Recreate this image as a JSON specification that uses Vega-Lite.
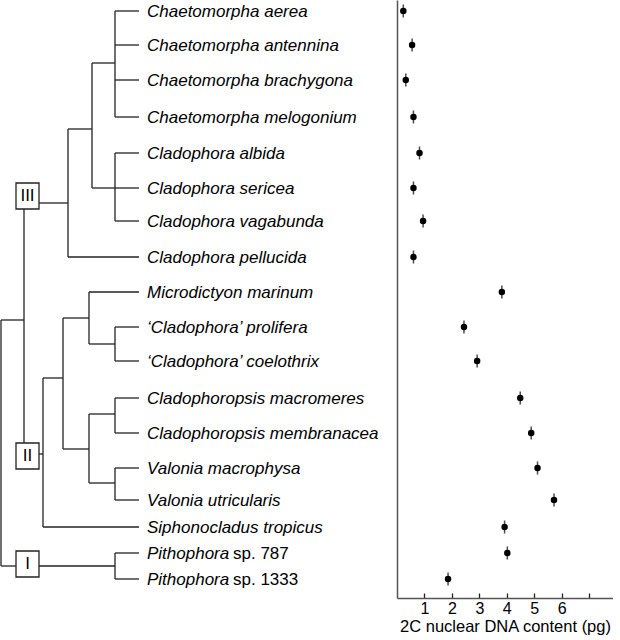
{
  "$schema": "https://vega.github.io/schema/vega-lite/v6.json",
  "padding": {"left": 0, "top": 0, "right": 0, "bottom": 0},
  "spacing": 0,
  "bounds": "flush",
  "config": {"view": {"stroke": null}, "font": "Liberation Sans"},
  "datasets": {
    "species": [
      {"label": "Chaetomorpha aerea", "suffix": "", "pos": 11, "dna": 0.23},
      {"label": "Chaetomorpha antennina", "suffix": "", "pos": 45, "dna": 0.55},
      {"label": "Chaetomorpha brachygona", "suffix": "", "pos": 80, "dna": 0.32},
      {"label": "Chaetomorpha melogonium", "suffix": "", "pos": 117, "dna": 0.6},
      {"label": "Cladophora albida", "suffix": "", "pos": 153, "dna": 0.82},
      {"label": "Cladophora sericea", "suffix": "", "pos": 188, "dna": 0.6},
      {"label": "Cladophora vagabunda", "suffix": "", "pos": 221, "dna": 0.95},
      {"label": "Cladophora pellucida", "suffix": "", "pos": 257, "dna": 0.6},
      {"label": "Microdictyon marinum", "suffix": "", "pos": 292, "dna": 3.82},
      {"label": "‘Cladophora’ prolifera", "suffix": "", "pos": 327, "dna": 2.44},
      {"label": "‘Cladophora’ coelothrix", "suffix": "", "pos": 361, "dna": 2.92},
      {"label": "Cladophoropsis macromeres", "suffix": "", "pos": 398, "dna": 4.49},
      {"label": "Cladophoropsis membranacea", "suffix": "", "pos": 433, "dna": 4.89},
      {"label": "Valonia macrophysa", "suffix": "", "pos": 468, "dna": 5.12},
      {"label": "Valonia utricularis", "suffix": "", "pos": 500, "dna": 5.72},
      {"label": "Siphonocladus tropicus", "suffix": "", "pos": 527, "dna": 3.92},
      {"label": "Pithophora", "suffix": "sp. 787", "pos": 553, "dna": 4.02},
      {"label": "Pithophora", "suffix": "sp. 1333", "pos": 579, "dna": 1.86}
    ],
    "segments": [
      {"x1": 39, "y1": 203, "x2": 68, "y2": 203},
      {"x1": 68, "y1": 129, "x2": 68, "y2": 257},
      {"x1": 68, "y1": 129, "x2": 92, "y2": 129},
      {"x1": 68, "y1": 257, "x2": 139, "y2": 257},
      {"x1": 92, "y1": 63, "x2": 92, "y2": 188},
      {"x1": 92, "y1": 63, "x2": 115, "y2": 63},
      {"x1": 92, "y1": 188, "x2": 115, "y2": 188},
      {"x1": 115, "y1": 11, "x2": 115, "y2": 117},
      {"x1": 115, "y1": 11, "x2": 139, "y2": 11},
      {"x1": 115, "y1": 45, "x2": 139, "y2": 45},
      {"x1": 115, "y1": 80, "x2": 139, "y2": 80},
      {"x1": 115, "y1": 117, "x2": 139, "y2": 117},
      {"x1": 115, "y1": 153, "x2": 115, "y2": 221},
      {"x1": 115, "y1": 153, "x2": 139, "y2": 153},
      {"x1": 115, "y1": 188, "x2": 139, "y2": 188},
      {"x1": 115, "y1": 221, "x2": 139, "y2": 221},
      {"x1": 24, "y1": 209, "x2": 24, "y2": 443},
      {"x1": 1, "y1": 320, "x2": 24, "y2": 320},
      {"x1": 1, "y1": 320, "x2": 1, "y2": 566},
      {"x1": 1, "y1": 566, "x2": 16, "y2": 566},
      {"x1": 39, "y1": 566, "x2": 115, "y2": 566},
      {"x1": 115, "y1": 553, "x2": 115, "y2": 579},
      {"x1": 115, "y1": 553, "x2": 139, "y2": 553},
      {"x1": 115, "y1": 579, "x2": 139, "y2": 579},
      {"x1": 39, "y1": 454, "x2": 43, "y2": 454},
      {"x1": 43, "y1": 378, "x2": 43, "y2": 527},
      {"x1": 43, "y1": 527, "x2": 139, "y2": 527},
      {"x1": 43, "y1": 378, "x2": 63, "y2": 378},
      {"x1": 63, "y1": 318, "x2": 63, "y2": 449},
      {"x1": 63, "y1": 318, "x2": 89, "y2": 318},
      {"x1": 89, "y1": 292, "x2": 89, "y2": 344},
      {"x1": 89, "y1": 292, "x2": 139, "y2": 292},
      {"x1": 89, "y1": 344, "x2": 115, "y2": 344},
      {"x1": 115, "y1": 327, "x2": 115, "y2": 361},
      {"x1": 115, "y1": 327, "x2": 139, "y2": 327},
      {"x1": 115, "y1": 361, "x2": 139, "y2": 361},
      {"x1": 63, "y1": 449, "x2": 89, "y2": 449},
      {"x1": 89, "y1": 414, "x2": 89, "y2": 483},
      {"x1": 89, "y1": 414, "x2": 115, "y2": 414},
      {"x1": 115, "y1": 398, "x2": 115, "y2": 433},
      {"x1": 115, "y1": 398, "x2": 139, "y2": 398},
      {"x1": 115, "y1": 433, "x2": 139, "y2": 433},
      {"x1": 89, "y1": 483, "x2": 115, "y2": 483},
      {"x1": 115, "y1": 468, "x2": 115, "y2": 500},
      {"x1": 115, "y1": 468, "x2": 139, "y2": 468},
      {"x1": 115, "y1": 500, "x2": 139, "y2": 500}
    ],
    "boxes": [
      {"clade": "III", "x1": 16, "x2": 39, "y1": 183, "y2": 209, "cx": 27.5, "cy": 196},
      {"clade": "II", "x1": 16, "x2": 39, "y1": 443, "y2": 469, "cx": 27.5, "cy": 456},
      {"clade": "I", "x1": 16, "x2": 39, "y1": 551, "y2": 577, "cx": 27.5, "cy": 564}
    ]
  },
  "hconcat": [
    {
      "width": 397,
      "height": 598,
      "layer": [
        {
          "data": {"name": "segments"},
          "mark": {"type": "rule", "color": "#222", "strokeWidth": 1.3},
          "encoding": {
            "x": {"field": "x1", "type": "quantitative", "scale": {"domain": [0, 397], "nice": false, "zero": false}, "axis": null},
            "x2": {"field": "x2"},
            "y": {"field": "y1", "type": "quantitative", "scale": {"domain": [0, 598], "nice": false, "zero": false, "reverse": true}, "axis": null},
            "y2": {"field": "y2"}
          }
        },
        {
          "data": {"name": "boxes"},
          "mark": {"type": "rect", "fill": "white", "stroke": "#222", "strokeWidth": 1.3},
          "encoding": {
            "x": {"field": "x1", "type": "quantitative"},
            "x2": {"field": "x2"},
            "y": {"field": "y1", "type": "quantitative"},
            "y2": {"field": "y2"}
          }
        },
        {
          "data": {"name": "boxes"},
          "mark": {"type": "text", "fontSize": 17, "align": "center", "baseline": "middle", "color": "black"},
          "encoding": {
            "x": {"field": "cx", "type": "quantitative"},
            "y": {"field": "cy", "type": "quantitative"},
            "text": {"field": "clade"}
          }
        },
        {
          "data": {"name": "species"},
          "mark": {"type": "text", "fontSize": 17, "fontStyle": "italic", "align": "left", "baseline": "middle", "dx": 147, "dy": 1, "color": "black"},
          "encoding": {
            "x": {"datum": 0, "type": "quantitative"},
            "y": {"field": "pos", "type": "quantitative"},
            "text": {"field": "label"}
          }
        },
        {
          "data": {"name": "species"},
          "transform": [{"filter": "datum.suffix != ''"}],
          "mark": {"type": "text", "fontSize": 17, "align": "left", "baseline": "middle", "dx": 233, "dy": 1, "color": "black"},
          "encoding": {
            "x": {"datum": 0, "type": "quantitative"},
            "y": {"field": "pos", "type": "quantitative"},
            "text": {"field": "suffix"}
          }
        }
      ]
    },
    {
      "width": 216,
      "height": 598,
      "data": {"name": "species"},
      "layer": [
        {
          "mark": {"type": "tick", "orient": "vertical", "size": 13, "thickness": 1.5, "color": "black"},
          "encoding": {
            "x": {"field": "dna", "type": "quantitative",
              "scale": {"domain": [0, 7.87], "nice": false, "zero": false},
              "axis": {"values": [1, 2, 3, 4, 5, 6, 7], "tickCount": 20, "format": "d", "labelExpr": "datum.value < 7 ? datum.label : ''", "labelOverlap": false, "tickSize": -5, "tickWidth": 1.3, "tickColor": "#222", "domainColor": "#555", "domainWidth": 1.5, "labelFontSize": 16, "labelColor": "black", "labelPadding": 7, "grid": false, "title": "2C nuclear DNA content (pg)", "titleFontSize": 16.5, "titleFontWeight": "normal", "titleColor": "black", "titlePadding": 2}},
            "y": {"field": "pos", "type": "quantitative",
              "scale": {"domain": [0, 598], "nice": false, "zero": false, "reverse": true},
              "axis": {"ticks": false, "labels": false, "grid": false, "title": null, "domainColor": "#555", "domainWidth": 1.5}}
          }
        },
        {
          "mark": {"type": "point", "filled": true, "size": 42, "color": "black", "opacity": 1},
          "encoding": {
            "x": {"field": "dna", "type": "quantitative"},
            "y": {"field": "pos", "type": "quantitative"}
          }
        }
      ]
    }
  ]
}
